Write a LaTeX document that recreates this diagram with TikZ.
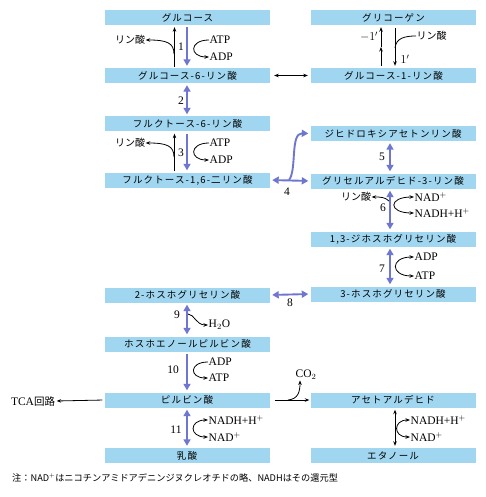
\documentclass[tikz,border=0pt]{standalone}
\usepackage{fontspec}
\setmainfont{Liberation Serif}
\newfontfamily\jp{Noto Sans CJK JP}
\newfontfamily\jpbox[LetterSpace=12]{Noto Sans CJK JP}
\usetikzlibrary{arrows.meta,calc}
\definecolor{boxc}{RGB}{160,214,240}
\definecolor{arrc}{RGB}{110,118,208}
\begin{document}
\begin{tikzpicture}[x=1pt,y=-1pt,
 box/.style={fill=boxc, minimum width=165pt, minimum height=15pt, inner sep=0pt, font=\jpbox\fontsize{9.5}{11}\selectfont},
 bline/.style={draw=arrc, line width=1.9pt, shorten >=2pt, shorten <=2pt},
 barrow/.style={bline, -{Triangle[length=6.5pt,width=7pt]}},
 bdbl/.style={bline, {Triangle[length=6.5pt,width=7pt]}-{Triangle[length=6.5pt,width=7pt]}},
 kline/.style={draw=black, line width=0.8pt},
 karrow/.style={kline, -{Stealth[length=4.5pt,width=3.5pt]}},
 kdbl/.style={kline, {Stealth[length=4.5pt,width=3.5pt]}-{Stealth[length=4.5pt,width=3.5pt]}},
 lbl/.style={font=\fontsize{11.5}{13}\selectfont, inner sep=0.5pt},
 jlbl/.style={font=\jp\fontsize{10}{12}\selectfont, inner sep=0.5pt},
]
\useasboundingbox (0,0) rectangle (486,497);
\fill[white] (0,0) rectangle (486,497);

% columns
\coordinate (L) at (187,0);
\coordinate (R) at (390,0);
\coordinate (E) at (395,0);
\coordinate (GU) at (381,0);
\coordinate (GD) at (395,0);

% boxes
\node[box] (glc) at (187.5,17.5) {グルコース};
\node[box] (g6p) at (187.5,75.5) {グルコース-6-リン酸};
\node[box] (gly) at (393.5,17.5) {グリコーゲン};
\node[box] (g1p) at (393.5,75.5) {グルコース-1-リン酸};
\node[box] (f6p) at (187.5,124) {フルクトース-6-リン酸};
\node[box] (f16) at (187.5,180) {フルクトース-1,6-二リン酸};
\node[box] (dhap) at (393,133.5) {ジヒドロキシアセトンリン酸};
\node[box] (g3p) at (393,181) {グリセルアルデヒド-3-リン酸};
\node[box] (bpg) at (393,239) {1,3-ジホスホグリセリン酸};
\node[box] (pg3) at (393,294) {3-ホスホグリセリン酸};
\node[box] (pg2) at (187.5,295) {2-ホスホグリセリン酸};
\node[box] (pep) at (187.5,344) {ホスホエノールピルビン酸};
\node[box] (pyr) at (187,400) {ピルビン酸};
\node[box] (lac) at (187,455.5) {乳酸};
\node[box] (ald) at (393,400) {アセトアルデヒド};
\node[box] (eth) at (393,455.5) {エタノール};

% ---- step 1
\draw[barrow] (glc.south -| L) -- (g6p.north -| L);
\draw[karrow, shorten <=1pt, shorten >=2pt] ([xshift=-13pt]g6p.north) -- ([xshift=-13pt]glc.south);
\node[jlbl] (p1) at (130,40) {リン酸};
\coordinate (b1) at (174,54);
\draw[karrow] (b1) .. controls (174,43) and (167,40) .. (p1.east);
\node[lbl] (n1) at (181,47) {1};
\node[lbl,anchor=west] (atp1) at (209,40) {ATP};
\node[lbl,anchor=west] (adp1) at (209,57) {ADP};
\draw[karrow] (atp1.west) .. controls (189,40) and (189,57) .. (adp1.west);

% ---- G6P <-> G1P
\draw[kdbl, shorten <=4pt, shorten >=3pt] (g6p.east) -- (g1p.west);

% ---- glycogen
\coordinate (m1) at (381,47);
\draw[karrow, shorten <=2pt] (g1p.north -| GU) -- (m1);
\draw[karrow, shorten >=2pt] (m1) -- (gly.south -| GU);
\node[lbl] (nm1) at (369,37) {$-1'$};
\draw[karrow, shorten <=3pt, shorten >=2pt] (gly.south -| GD) -- (g1p.north -| GD);
\node[jlbl,anchor=west] (p1b) at (416,36) {リン酸};
\coordinate (b1b) at (395,48);
\draw[kline] (b1b) .. controls (396,38) and (405,36) .. (p1b.west);
\node[lbl] (n1b) at (405,59) {$1'$};

% ---- step 2
\draw[bdbl] (g6p.south -| L) -- (f6p.north -| L);
\node[lbl] (n2) at (181,101) {2};

% ---- step 3
\draw[barrow] (f6p.south -| L) -- (f16.north -| L);
\draw[karrow, shorten <=1pt, shorten >=2pt] ([xshift=-13pt]f16.north) -- ([xshift=-13pt]f6p.south);
\node[jlbl] (p3) at (130,143) {リン酸};
\coordinate (b3) at (174,157);
\draw[karrow] (b3) .. controls (174,146) and (167,143) .. (p3.east);
\node[lbl] (n3) at (181,153) {3};
\node[lbl,anchor=west] (atp3) at (209,143) {ATP};
\node[lbl,anchor=west] (adp3) at (209,160) {ADP};
\draw[karrow] (atp3.west) .. controls (189,143) and (189,160) .. (adp3.west);

% ---- step 4
\draw[bdbl] (f16.east) -- (g3p.west);
\coordinate (c4) at (289,180);
\draw[barrow, shorten <=0pt] (c4) .. controls (297,170) and (290,133) .. (dhap.west);
\node[lbl] (n4) at (287,192) {4};

% ---- step 5
\draw[bdbl] (dhap.south -| R) -- (g3p.north -| R);
\node[lbl] (n5) at (382,157) {5};

% ---- step 6
\draw[bdbl] (g3p.south -| R) -- (bpg.north -| R);
\node[jlbl] (p6) at (356,197) {リン酸};
\coordinate (b6) at (389,201);
\draw[karrow] (b6) .. controls (385,197) and (380,197) .. (p6.east);
\node[lbl] (n6) at (383,208) {6};
\node[lbl,anchor=west] (nad6) at (414,197) {NAD$^+$};
\node[lbl,anchor=west] (nadh6) at (414,213) {NADH+H$^+$};
\draw[kdbl] (nad6.west) .. controls (388,197) and (388,213) .. (nadh6.west);

% ---- step 7
\draw[bdbl] (bpg.south -| R) -- (pg3.north -| R);
\node[lbl] (n7) at (382,269) {7};
\node[lbl,anchor=west] (adp7) at (414,257) {ADP};
\node[lbl,anchor=west] (atp7) at (414,276) {ATP};
\draw[kdbl] (adp7.west) .. controls (390,257) and (390,276) .. (atp7.west);

% ---- step 8
\draw[bdbl] (pg2.east) -- (pg3.west);
\node[lbl] (n8) at (290,303) {8};

% ---- step 9
\draw[bdbl] (pg2.south -| L) -- (pep.north -| L);
\node[lbl] (n9) at (177,315) {9};
\node[lbl,anchor=west] (h2o) at (208,325) {H$_2$O};
\coordinate (b9) at (188,314);
\draw[karrow] (b9) .. controls (194,314) and (196,325) .. (h2o.west);

% ---- step 10
\draw[barrow] (pep.south -| L) -- (pyr.north -| L);
\node[lbl] (n10) at (173,370) {10};
\node[lbl,anchor=west] (adp10) at (208,362) {ADP};
\node[lbl,anchor=west] (atp10) at (208,378) {ATP};
\draw[karrow] (adp10.west) .. controls (189,362) and (189,378) .. (atp10.west);

% ---- TCA
\node[lbl] (tca) at (33,401) {TCA{\jp\fontsize{10.5}{12}\selectfont 回路}};
\draw[karrow, shorten <=2pt, shorten >=1pt] (pyr.west) -- (tca.east);

% ---- pyruvate -> acetaldehyde
\draw[karrow, shorten <=5pt, shorten >=1pt] (pyr.east) -- (ald.west);
\node[lbl] (co2) at (306,375) {CO$_2$};
\coordinate (c10) at (288,400);
\draw[karrow] (c10) .. controls (298,399) and (300,392) .. ([xshift=-6pt]co2.south);

% ---- step 11
\draw[bdbl] (pyr.south -| L) -- (lac.north -| L);
\node[lbl] (n11) at (176,430) {11};
\node[lbl,anchor=west] (nadh11) at (208,420) {NADH+H$^+$};
\node[lbl,anchor=west] (nad11) at (208,437) {NAD$^+$};
\draw[kdbl] (nadh11.west) .. controls (189,420) and (189,437) .. (nad11.west);

% ---- acetaldehyde <-> ethanol
\draw[kdbl, shorten <=2pt, shorten >=2pt] (ald.south -| E) -- (eth.north -| E);
\node[lbl,anchor=west] (nadh12) at (410,420) {NADH+H$^+$};
\node[lbl,anchor=west] (nad12) at (410,437) {NAD$^+$};
\draw[kdbl] (nadh12.west) .. controls (393,420) and (393,437) .. (nad12.west);

% ---- footnote
\node[anchor=west, inner sep=0pt, font=\jp\fontsize{9.2}{11}\selectfont] (note) at (12,478) {注：NAD$^{+}$はニコチンアミドアデニンジヌクレオチドの略、NADHはその還元型};
\end{tikzpicture}
\end{document}
